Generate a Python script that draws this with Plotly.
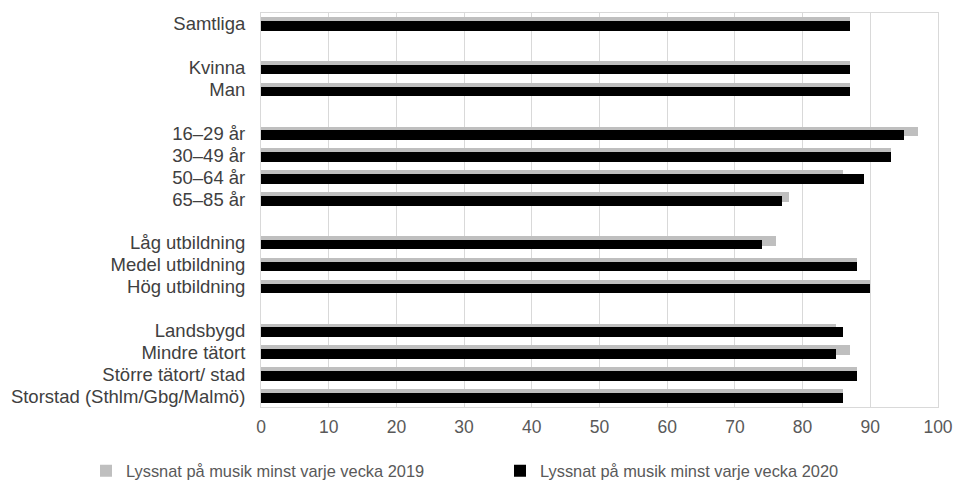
import plotly.graph_objects as go

categories = ["Samtliga", "", "Kvinna", "Man", "", "16–29 år", "30–49 år", "50–64 år", "65–85 år", "",
              "Låg utbildning", "Medel utbildning", "Hög utbildning", "",
              "Landsbygd", "Mindre tätort", "Större tätort/ stad", "Storstad (Sthlm/Gbg/Malmö)"]
values_2019 = [87, None, 87, 87, None, 97, 93, 86, 78, None, 76, 88, 90, None, 85, 87, 88, 86]
values_2020 = [87, None, 87, 87, None, 95, 93, 89, 77, None, 74, 88, 90, None, 86, 85, 88, 86]
series_names = ["Lyssnat på musik minst varje vecka 2019", "Lyssnat på musik minst varje vecka 2020"]
x_ticks = [0, 10, 20, 30, 40, 50, 60, 70, 80, 90, 100]

positions = list(range(len(categories)))

W, H = 954, 489

fig = go.Figure()
fig.add_trace(go.Bar(
    y=positions, x=values_2019, orientation="h", name=series_names[0], legend="legend",
    showlegend=True,
    marker=dict(color="#bfbfbf", line=dict(width=0)), width=0.45, offset=-0.31,
))
fig.add_trace(go.Bar(
    y=positions, x=values_2020, orientation="h", name=series_names[1], legend="legend2",
    showlegend=True,
    marker=dict(color="#000000", line=dict(width=0)), width=0.44, offset=-0.14,
))

legend_common = dict(
    orientation="h", xref="container", yref="container", xanchor="left",
    yanchor="middle", y=1 - 471 / H, visible=True,
    font=dict(size=16.4, color="#595959"), bgcolor="rgba(0,0,0,0)",
)

fig.update_layout(
    width=W, height=H,
    showlegend=True,
    margin=dict(l=261, r=16, t=13, b=82, autoexpand=False),
    barmode="overlay",
    plot_bgcolor="white", paper_bgcolor="white",
    font=dict(family="Liberation Sans, Arial, sans-serif", size=17, color="#404040"),
    xaxis=dict(
        range=[0, 100], tickvals=x_ticks, showgrid=True, gridcolor="#d9d9d9", gridwidth=1,
        showline=True, linecolor="#d9d9d9", mirror=True, zeroline=False,
        tickfont=dict(size=17.5, color="#595959"), ticks="", ticklen=0,
        ticklabelstandoff=4,
    ),
    yaxis=dict(
        range=[len(categories) - 0.5, -0.5], tickvals=positions, ticktext=categories,
        showgrid=False, showline=True, linecolor="#d9d9d9", mirror=True, zeroline=False,
        tickfont=dict(size=18.5, color="#404040"), ticks="", ticklen=0,
        ticklabelstandoff=11,
    ),
    legend=dict(x=86 / W, **legend_common),
    legend2=dict(x=500 / W, **legend_common),
    bargap=0,
)

fig.write_html(
    "out.html",
    config={"displayModeBar": False},
    post_script="document.body.style.margin='0';document.body.style.overflow='hidden';",
)
